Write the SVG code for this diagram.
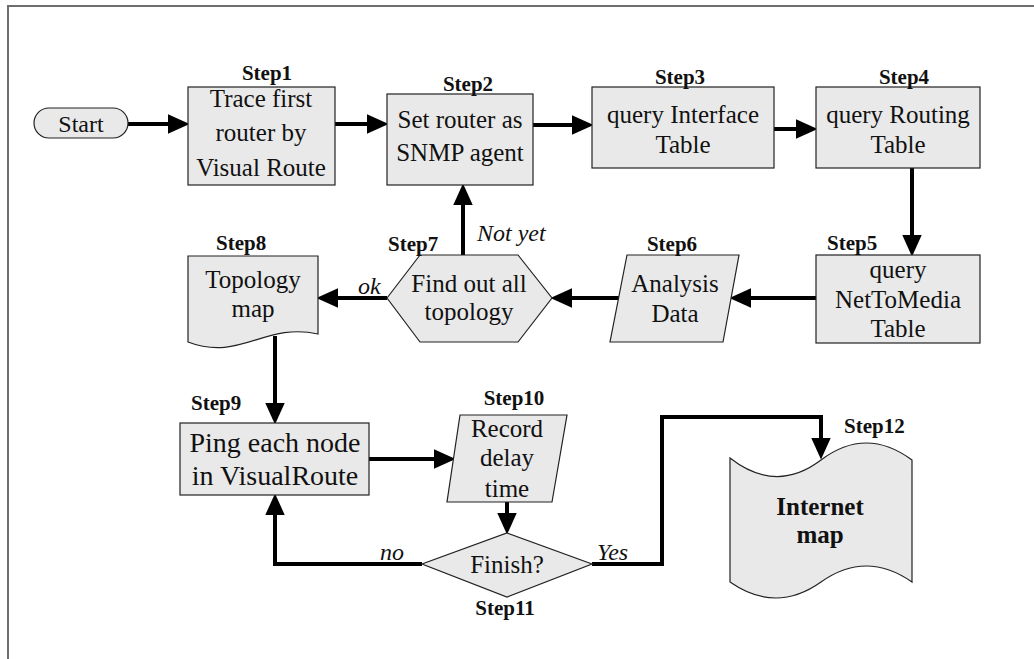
<svg xmlns="http://www.w3.org/2000/svg" width="1034" height="659" viewBox="0 0 1034 659">
  <style>
    .shape { fill: #e9e9e9; stroke: #222; stroke-width: 1.2; }
    .txt { font-family: "Liberation Serif", "Times New Roman", serif; font-size: 25px; fill: #111; text-anchor: middle; }
    .big { font-size: 28px; }
    .step { font-family: "Liberation Serif", "Times New Roman", serif; font-size: 21px; font-weight: bold; fill: #111; }
    .lbl { font-family: "Liberation Serif", "Times New Roman", serif; font-size: 24px; font-style: italic; fill: #111; }
    .title { font-weight: bold; }
    .conn { fill: none; stroke: #000; stroke-width: 4; stroke-linejoin: miter; }
  </style>
  <defs>
    <marker id="arrow" markerUnits="userSpaceOnUse" markerWidth="22" markerHeight="20" viewBox="0 0 20 18" refX="4" refY="9" orient="auto">
      <path d="M0,0 L20,9 L0,18 z" fill="#000"/>
    </marker>
  </defs>

  <rect width="1034" height="659" fill="#fff"/>
  <!-- page frame -->
  <path d="M8,659 L8,6 L1034,6" fill="none" stroke="#6e6e6e" stroke-width="2"/>

  <!-- connectors -->
  <g id="connectors" class="conn" marker-end="url(#arrow)">
    <path d="M128,124 L172,124"/>
    <path d="M335,124 L371,124"/>
    <path d="M533,125 L576,125"/>
    <path d="M774,129 L800,129"/>
    <path d="M912,168 L912,239"/>
    <path d="M816,298 L747,298"/>
    <path d="M619,298 L568,298"/>
    <path d="M463,255 L463,201"/>
    <path d="M387,298 L334,298"/>
    <path d="M275,336 L275,407"/>
    <path d="M369,459 L438,459"/>
    <path d="M507,502 L507,517"/>
    <path d="M422,564 L275,564 L275,511"/>
    <path d="M592,564 L662,564 L662,417 L821,417 L821,442"/>
  </g>

  <g id="start">
    <rect class="shape" x="34" y="108" width="94" height="30" rx="15"/>
    <text class="txt" x="81" y="132" style="font-size:24px">Start</text>
  </g>

  <g id="step1">
    <rect class="shape" x="188" y="87" width="147" height="98"/>
    <text class="step" x="267" y="80" text-anchor="middle">Step1</text>
    <text class="txt" x="261" y="107">Trace first</text>
    <text class="txt" x="261" y="141">router by</text>
    <text class="txt" x="261" y="176">Visual Route</text>
  </g>

  <g id="step2">
    <rect class="shape" x="387" y="94" width="146" height="91"/>
    <text class="step" x="468" y="91" text-anchor="middle">Step2</text>
    <text class="txt" x="460" y="128">Set router as</text>
    <text class="txt" x="460" y="161">SNMP agent</text>
  </g>

  <g id="step3">
    <rect class="shape" x="592" y="87" width="182" height="81"/>
    <text class="step" x="680" y="84" text-anchor="middle">Step3</text>
    <text class="txt" x="683" y="123">query Interface</text>
    <text class="txt" x="683" y="153">Table</text>
  </g>

  <g id="step4">
    <rect class="shape" x="816" y="87" width="164" height="81"/>
    <text class="step" x="904" y="84" text-anchor="middle">Step4</text>
    <text class="txt" x="898" y="123">query Routing</text>
    <text class="txt" x="898" y="153">Table</text>
  </g>

  <g id="step5">
    <rect class="shape" x="816" y="255" width="164" height="88"/>
    <text class="step" x="827" y="250">Step5</text>
    <text class="txt" x="898" y="278">query</text>
    <text class="txt" x="898" y="308">NetToMedia</text>
    <text class="txt" x="898" y="337">Table</text>
  </g>

  <g id="step6">
    <polygon class="shape" points="627,255 739,255 723,342 610,342"/>
    <text class="step" x="672" y="251" text-anchor="middle">Step6</text>
    <text class="txt" x="675" y="292">Analysis</text>
    <text class="txt" x="675" y="322">Data</text>
  </g>

  <g id="step7">
    <polygon class="shape" points="387,298 420,255 518,255 552,298 518,342 420,342"/>
    <text class="step" x="388" y="251">Step7</text>
    <text class="txt" x="469" y="292">Find out all</text>
    <text class="txt" x="469" y="320">topology</text>
    <text class="lbl" x="477" y="241">Not yet</text>
    <text class="lbl" x="358" y="294">ok</text>
  </g>

  <g id="step8">
    <path class="shape" d="M188,256 L318,256 L318,334 C265,322 240,362 188,342 Z"/>
    <text class="step" x="216" y="250">Step8</text>
    <text class="txt" x="253" y="288">Topology</text>
    <text class="txt" x="253" y="317">map</text>
  </g>

  <g id="step9">
    <rect class="shape" x="180" y="423" width="189" height="72"/>
    <text class="step" x="191" y="410">Step9</text>
    <text class="txt big" x="275" y="452">Ping each node</text>
    <text class="txt big" x="275" y="485">in VisualRoute</text>
  </g>

  <g id="step10">
    <polygon class="shape" points="460,415 567,415 552,502 447,502"/>
    <text class="step" x="514" y="405" text-anchor="middle">Step10</text>
    <text class="txt" x="507" y="437">Record</text>
    <text class="txt" x="507" y="466">delay</text>
    <text class="txt" x="507" y="497">time</text>
  </g>

  <g id="step11">
    <polygon class="shape" points="507,533 592,564 507,597 422,564"/>
    <text class="step" x="505" y="615" text-anchor="middle">Step11</text>
    <text class="txt" x="507" y="573">Finish?</text>
    <text class="lbl" x="380" y="560">no</text>
    <text class="lbl" x="597" y="560">Yes</text>
  </g>

  <g id="step12">
    <path class="shape" d="M730,458 Q776,494 821,460 Q866,426 912,460 L912,582 Q866,550 821,582 Q776,614 730,582 Z"/>
    <text class="step" x="844" y="433">Step12</text>
    <text class="txt title" x="820" y="515">Internet</text>
    <text class="txt title" x="820" y="543">map</text>
  </g>
</svg>
